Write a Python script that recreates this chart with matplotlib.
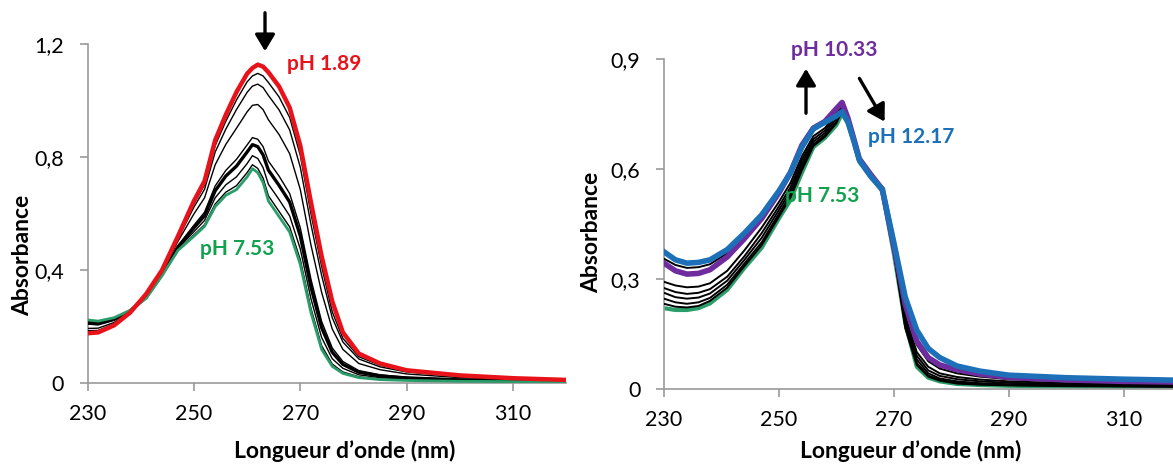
import numpy as np
import matplotlib
matplotlib.use("Agg")
import matplotlib.pyplot as plt
import matplotlib as mpl
from matplotlib.ticker import FuncFormatter

mpl.rcParams.update({"font.family": ["Lato", "DejaVu Sans"]})

# -------------------- data --------------------

# left panel: acid titration, pH 1.89 (red) -> pH 7.53 (green)
WL_L = [230, 232, 235, 238, 241, 244, 247, 250, 252, 254, 256, 258, 260, 261,
        262, 263, 264, 266, 268, 270, 272, 274, 276, 278, 281, 285, 290, 300,
        310, 320]
RED_189 = [0.177, 0.180, 0.205, 0.250, 0.315, 0.400, 0.520, 0.645, 0.715, 0.860,
           0.950, 1.030, 1.095, 1.115, 1.127, 1.120, 1.100, 1.050, 0.975, 0.840,
           0.640, 0.450, 0.290, 0.180, 0.105, 0.070, 0.046, 0.028, 0.018, 0.012]
GREEN_753_L = [0.224, 0.220, 0.232, 0.258, 0.300, 0.380, 0.470, 0.520, 0.555, 0.625,
               0.665, 0.685, 0.730, 0.759, 0.745, 0.710, 0.645, 0.590, 0.535, 0.420,
               0.250, 0.120, 0.060, 0.035, 0.020, 0.013, 0.010, 0.007, 0.006, 0.005]
BLACK_L = [
    [0.181, 0.183, 0.207, 0.251, 0.314, 0.398, 0.516, 0.635, 0.702, 0.841,
     0.927, 1.002, 1.066, 1.087, 1.096, 1.087, 1.064, 1.013, 0.940, 0.806,
     0.600, 0.414, 0.253, 0.159, 0.094, 0.064, 0.043, 0.026, 0.017, 0.011],
    [0.186, 0.187, 0.210, 0.251, 0.312, 0.396, 0.511, 0.623, 0.686, 0.818,
     0.899, 0.968, 1.029, 1.051, 1.058, 1.046, 1.018, 0.967, 0.896, 0.764,
     0.562, 0.382, 0.232, 0.146, 0.086, 0.058, 0.040, 0.024, 0.016, 0.011],
    [0.194, 0.195, 0.215, 0.253, 0.309, 0.393, 0.502, 0.599, 0.656, 0.773,
     0.845, 0.902, 0.960, 0.983, 0.986, 0.968, 0.932, 0.880, 0.812, 0.685,
     0.489, 0.322, 0.192, 0.120, 0.070, 0.048, 0.033, 0.020, 0.014, 0.009],
    [0.209, 0.208, 0.224, 0.256, 0.305, 0.386, 0.486, 0.559, 0.605, 0.698,
     0.753, 0.792, 0.843, 0.869, 0.863, 0.837, 0.786, 0.733, 0.671, 0.550,
     0.368, 0.219, 0.125, 0.077, 0.045, 0.030, 0.021, 0.014, 0.010, 0.007],
    [0.213, 0.210, 0.226, 0.256, 0.304, 0.385, 0.482, 0.550, 0.593, 0.681,
     0.733, 0.768, 0.818, 0.844, 0.837, 0.808, 0.754, 0.700, 0.641, 0.521,
     0.341, 0.197, 0.110, 0.067, 0.039, 0.026, 0.019, 0.012, 0.009, 0.007],
    [0.218, 0.215, 0.228, 0.257, 0.302, 0.383, 0.477, 0.536, 0.576, 0.656,
     0.702, 0.730, 0.777, 0.805, 0.795, 0.763, 0.704, 0.650, 0.592, 0.475,
     0.299, 0.162, 0.087, 0.053, 0.030, 0.020, 0.015, 0.010, 0.008, 0.006],
    [0.222, 0.218, 0.231, 0.258, 0.301, 0.381, 0.472, 0.525, 0.561, 0.634,
     0.676, 0.699, 0.745, 0.773, 0.760, 0.726, 0.663, 0.608, 0.553, 0.437,
     0.265, 0.133, 0.068, 0.040, 0.023, 0.015, 0.011, 0.008, 0.006, 0.005],
]
THICK_L = 4  # index of the heavier black trace

# right panel: basic titration, pH 7.53 (green) -> 10.33 (purple) -> 12.17 (blue)
WL_R = [230, 232, 234, 236, 238, 241, 244, 247, 250, 252, 254, 256, 258, 260,
        261, 262, 263, 264, 266, 268, 270, 272, 274, 276, 278, 281, 285, 290,
        300, 310, 320]
BLUE_1217 = [0.374, 0.352, 0.343, 0.345, 0.352, 0.380, 0.425, 0.475, 0.540, 0.590,
             0.660, 0.710, 0.728, 0.745, 0.757, 0.730, 0.680, 0.625, 0.580, 0.545,
             0.400, 0.250, 0.160, 0.110, 0.085, 0.062, 0.048, 0.037, 0.030, 0.026,
             0.023]
PURPLE_1033 = [0.343, 0.322, 0.313, 0.315, 0.325, 0.360, 0.410, 0.465, 0.535, 0.590,
               0.665, 0.712, 0.730, 0.765, 0.782, 0.740, 0.685, 0.628, 0.585, 0.545,
               0.390, 0.230, 0.130, 0.085, 0.065, 0.052, 0.040, 0.031, 0.024, 0.020,
               0.018]
GREEN_753_R = [0.220, 0.215, 0.215, 0.220, 0.233, 0.270, 0.330, 0.385, 0.465, 0.515,
               0.590, 0.660, 0.685, 0.720, 0.752, 0.725, 0.675, 0.620, 0.578, 0.540,
               0.370, 0.180, 0.060, 0.030, 0.020, 0.013, 0.010, 0.008, 0.006, 0.005,
               0.005]
BLACK_R = [
    [0.355, 0.338, 0.330, 0.332, 0.340, 0.370, 0.415, 0.470, 0.535, 0.585,
     0.655, 0.705, 0.725, 0.760, 0.775, 0.738, 0.683, 0.626, 0.582, 0.545,
     0.385, 0.220, 0.120, 0.075, 0.055, 0.042, 0.033, 0.026, 0.020, 0.017, 0.015],
    [0.292, 0.282, 0.277, 0.279, 0.288, 0.322, 0.378, 0.440, 0.510, 0.562,
     0.635, 0.690, 0.712, 0.752, 0.772, 0.735, 0.680, 0.624, 0.580, 0.543,
     0.380, 0.200, 0.100, 0.060, 0.042, 0.032, 0.025, 0.020, 0.015, 0.013, 0.012],
    [0.275, 0.264, 0.259, 0.262, 0.272, 0.306, 0.362, 0.425, 0.498, 0.550,
     0.625, 0.682, 0.705, 0.745, 0.770, 0.733, 0.679, 0.623, 0.580, 0.542,
     0.378, 0.190, 0.090, 0.050, 0.035, 0.026, 0.020, 0.016, 0.012, 0.010, 0.009],
    [0.262, 0.250, 0.246, 0.249, 0.260, 0.295, 0.352, 0.412, 0.488, 0.540,
     0.615, 0.675, 0.698, 0.738, 0.768, 0.731, 0.678, 0.622, 0.579, 0.542,
     0.376, 0.180, 0.080, 0.042, 0.028, 0.020, 0.015, 0.012, 0.009, 0.008, 0.007],
    [0.246, 0.236, 0.232, 0.236, 0.248, 0.284, 0.342, 0.400, 0.478, 0.530,
     0.605, 0.668, 0.692, 0.730, 0.765, 0.729, 0.677, 0.621, 0.579, 0.541,
     0.374, 0.172, 0.070, 0.036, 0.024, 0.016, 0.012, 0.010, 0.008, 0.007, 0.006],
    [0.232, 0.224, 0.222, 0.226, 0.240, 0.276, 0.335, 0.392, 0.470, 0.522,
     0.597, 0.663, 0.688, 0.725, 0.760, 0.727, 0.676, 0.620, 0.578, 0.540,
     0.372, 0.165, 0.065, 0.033, 0.022, 0.014, 0.011, 0.009, 0.007, 0.006, 0.005],
]

XTICKS = [230, 250, 270, 290, 310]
YTICKS_L = [0, 0.4, 0.8, 1.2]
YTICKS_R = [0, 0.3, 0.6, 0.9]

RED = "#e8121a"
GREEN_LINE = "#2a9d6a"
GREEN_TXT = "#12a14e"
PURPLE = "#6e2c9e"
BLUE = "#1d70b8"
GREY = "#9a9a9a"

TICK_FS = 15.5
LABEL_FS = 16.5
PH_FS = 15


def comma_fmt(v, _pos):
    if abs(v) < 1e-9:
        return "0"
    return f"{v:.1f}".replace(".", ",")


def style_axes(ax, yticks, ymax):
    ax.set_xlim(230, 320)
    ax.set_ylim(0, ymax)
    ax.set_xticks(XTICKS)
    ax.set_yticks(yticks)
    ax.yaxis.set_major_formatter(FuncFormatter(comma_fmt))
    for s in ("top", "right"):
        ax.spines[s].set_visible(False)
    for s in ("left", "bottom"):
        ax.spines[s].set_color(GREY)
        ax.spines[s].set_linewidth(1.2)
    ax.tick_params(axis="both", color=GREY, width=1.2, length=6,
                   labelsize=TICK_FS, direction="out")
    ax.tick_params(axis="y", pad=11)
    ax.tick_params(axis="x", pad=9)
    ax.patch.set_alpha(0)


def arrow(x0, y0, x1, y1):
    # pixel coordinates (top-left origin) -> figure fraction
    fig.patches.append(mpl.patches.FancyArrowPatch(
        (x0 / 1173, 1 - y0 / 465), (x1 / 1173, 1 - y1 / 465),
        transform=fig.transFigure,
        arrowstyle="-|>,head_length=0.5,head_width=0.3",
        mutation_scale=20, color="black", lw=2.4))


def label(x, y, s, color, **kw):
    fig.text(x / 1173, 1 - y / 465, s, color=color, fontsize=PH_FS,
             fontweight="bold", ha="center", va="center", **kw)


fig = plt.figure(figsize=(11.73, 4.65), dpi=100)

# -------------------- left panel --------------------
axL = fig.add_axes([0.0746, 0.1757, 0.4082, 0.7297])
style_axes(axL, YTICKS_L, 1.2)
for i, ys in enumerate(BLACK_L):
    axL.plot(WL_L, ys, color="black", lw=2.4 if i == THICK_L else 1.0,
             solid_joinstyle="round", zorder=3)
axL.plot(WL_L, GREEN_753_L, color=GREEN_LINE, lw=2.0, zorder=4)
axL.plot(WL_L, RED_189, color=RED, lw=3.2, zorder=5)

label(324, 64, "pH 1.89", RED)
label(237, 249, "pH 7.53", GREEN_TXT)
arrow(265, 10, 265, 54)

fig.text(23 / 1173, 1 - 255 / 465, "Absorbance", rotation=90, fontsize=LABEL_FS,
         fontweight="bold", ha="center", va="center")
fig.text(345 / 1173, 1 - 451 / 465, "Longueur d\u2019onde (nm)", fontsize=LABEL_FS,
         fontweight="bold", ha="center", va="center")

# -------------------- right panel --------------------
axR = fig.add_axes([664 / 1173, 0.1641, 517 / 1173, 329.4 / 465])
style_axes(axR, YTICKS_R, 0.9)
for ys in BLACK_R:
    axR.plot(WL_R, ys, color="black", lw=1.4, zorder=3)
axR.plot(WL_R, GREEN_753_R, color=GREEN_LINE, lw=3.0, zorder=2)
axR.plot(WL_R, PURPLE_1033, color=PURPLE, lw=4.0, zorder=4)
axR.plot(WL_R, BLUE_1217, color=BLUE, lw=4.0, zorder=5)

label(834, 50, "pH 10.33", PURPLE)
label(911, 137, "pH 12.17", BLUE)
label(822, 196, "pH 7.53", GREEN_TXT)
arrow(806, 116, 806, 66)
arrow(858, 76, 886, 124)

fig.text(592 / 1173, 1 - 232 / 465, "Absorbance", rotation=90, fontsize=LABEL_FS,
         fontweight="bold", ha="center", va="center")
fig.text(911 / 1173, 1 - 451 / 465, "Longueur d\u2019onde (nm)", fontsize=LABEL_FS,
         fontweight="bold", ha="center", va="center")

fig.savefig("out.png", dpi=100)
